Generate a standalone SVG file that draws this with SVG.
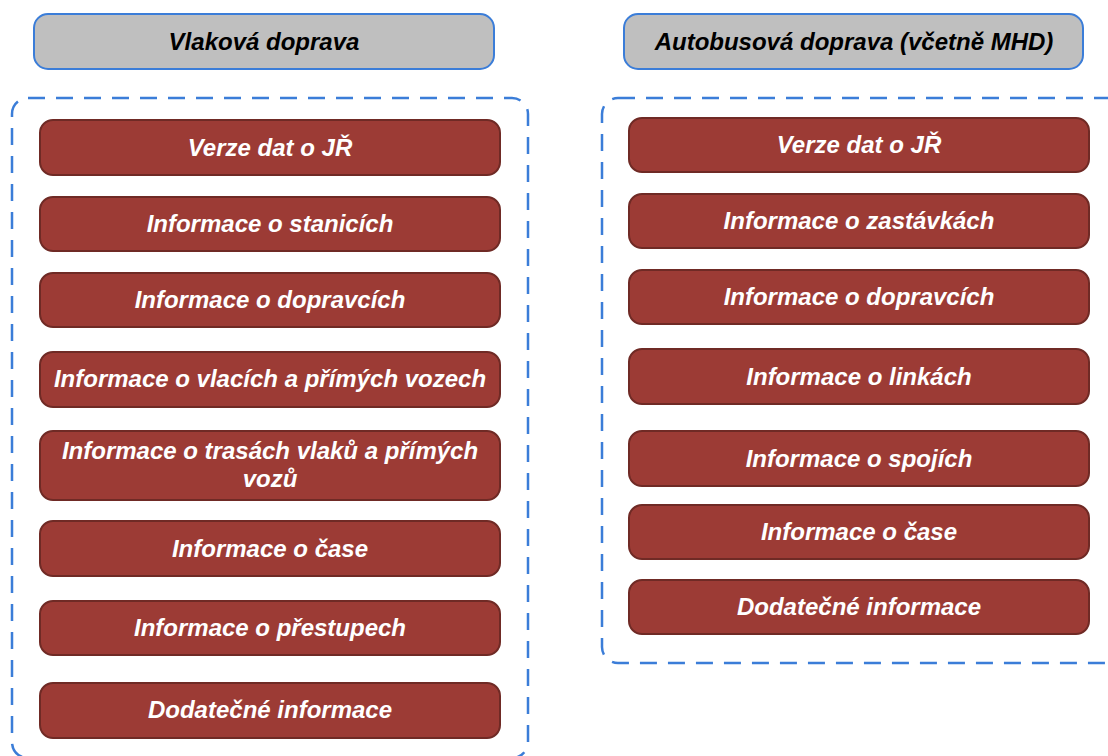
<svg xmlns="http://www.w3.org/2000/svg" width="1108" height="756" viewBox="0 0 1108 756">
<style>
.hdr{fill:#BFBFBF;stroke:#3B7DD8;stroke-width:2}
.grp{fill:none;stroke:#3B7DD8;stroke-width:2.5;stroke-dasharray:17 11}
.box{fill:#9C3B35;stroke:#6F2A25;stroke-width:2}
.ht{font-family:"Liberation Sans",Arial,sans-serif;font-weight:bold;font-style:italic;font-size:24px;fill:#000;text-anchor:middle}
.bt{font-family:"Liberation Sans",Arial,sans-serif;font-weight:bold;font-style:italic;font-size:24px;fill:#fff;text-anchor:middle}
</style>
<rect x="0" y="0" width="1108" height="756" fill="#fff"/>
<g id="left-group">
<rect class="grp" x="12" y="98" width="516" height="660" rx="16"/>
</g>
<g id="right-group">
<rect class="grp" x="602" y="98" width="530" height="565" rx="16"/>
</g>
<g id="hdr-vlak"><rect class="hdr" x="34" y="14" width="460" height="55" rx="14"/><text class="ht" x="264" y="50">Vlaková doprava</text></g>
<g id="hdr-bus"><rect class="hdr" x="624" y="14" width="459" height="55" rx="14"/><text class="ht" x="854" y="50">Autobusová doprava (včetně MHD)</text></g>

<g id="l1"><rect class="box" x="40" y="120" width="460" height="55" rx="13"/><text class="bt" x="270" y="156">Verze dat o JŘ</text></g>
<g id="l2"><rect class="box" x="40" y="197" width="460" height="54" rx="13"/><text class="bt" x="270" y="232">Informace o stanicích</text></g>
<g id="l3"><rect class="box" x="40" y="273" width="460" height="54" rx="13"/><text class="bt" x="270" y="308">Informace o dopravcích</text></g>
<g id="l4"><rect class="box" x="40" y="352" width="460" height="55" rx="13"/><text class="bt" x="270" y="387">Informace o vlacích a přímých vozech</text></g>
<g id="l5"><rect class="box" x="40" y="431" width="460" height="69" rx="13"/><text class="bt" x="270" y="459">Informace o trasách vlaků a přímých</text><text class="bt" x="270" y="487">vozů</text></g>
<g id="l6"><rect class="box" x="40" y="521" width="460" height="55" rx="13"/><text class="bt" x="270" y="557">Informace o čase</text></g>
<g id="l7"><rect class="box" x="40" y="601" width="460" height="54" rx="13"/><text class="bt" x="270" y="636">Informace o přestupech</text></g>
<g id="l8"><rect class="box" x="40" y="683" width="460" height="55" rx="13"/><text class="bt" x="270" y="718">Dodatečné informace</text></g>

<g id="r1"><rect class="box" x="629" y="118" width="460" height="54" rx="13"/><text class="bt" x="859" y="153">Verze dat o JŘ</text></g>
<g id="r2"><rect class="box" x="629" y="194" width="460" height="54" rx="13"/><text class="bt" x="859" y="229">Informace o zastávkách</text></g>
<g id="r3"><rect class="box" x="629" y="270" width="460" height="54" rx="13"/><text class="bt" x="859" y="305">Informace o dopravcích</text></g>
<g id="r4"><rect class="box" x="629" y="349" width="460" height="55" rx="13"/><text class="bt" x="859" y="385">Informace o linkách</text></g>
<g id="r5"><rect class="box" x="629" y="431" width="460" height="55" rx="13"/><text class="bt" x="859" y="467">Informace o spojích</text></g>
<g id="r6"><rect class="box" x="629" y="505" width="460" height="54" rx="13"/><text class="bt" x="859" y="540">Informace o čase</text></g>
<g id="r7"><rect class="box" x="629" y="580" width="460" height="54" rx="13"/><text class="bt" x="859" y="615">Dodatečné informace</text></g>
<g id="connectors"></g>
</svg>
